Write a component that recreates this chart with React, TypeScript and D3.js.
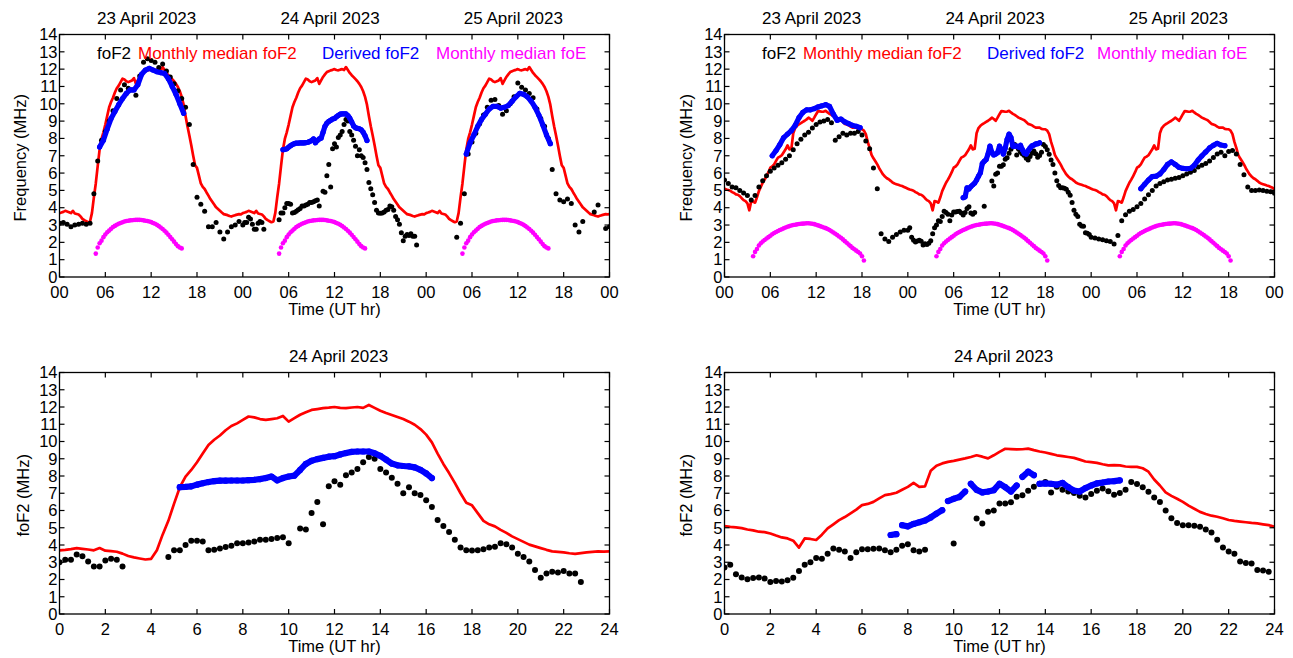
import React from "react";
import * as d3 from "d3";

type V = number | null;
type Pt = [number, number];

// ---------- tick labels and titles ----------
const DAY_LABELS = ["23 April 2023", "24 April 2023", "25 April 2023"];
const ZOOM_DAY_LABEL = "24 April 2023";
const Y_TICKS = d3.range(0, 15, 1);
const TOP_X_TICKS = d3.range(0, 73, 6);
const BOTTOM_X_TICKS = d3.range(0, 25, 2);
const LEGEND_LABELS = ["foF2", "Monthly median foF2", "Derived foF2", "Monthly median foE"];

// ---------- station A (left column) ----------
// monthly median foF2, one value every 15 min, 00:00 .. 24:00
const medianA: number[] = [
  3.69, 3.72, 3.76, 3.82, 3.78, 3.74, 3.69, 3.82, 3.67, 3.64, 3.61, 3.5,
  3.36, 3.28, 3.22, 3.16, 3.2, 3.7, 4.6, 5.4, 6.4, 7.35, 7.97, 8.35,
  8.8, 9.3, 9.8, 10.1, 10.35, 10.65, 10.9, 11.05, 11.25, 11.45, 11.4, 11.3,
  11.25, 11.3, 11.35, 11.48, 11.15, 11.35, 11.55, 11.7, 11.83, 11.88, 11.93, 11.96,
  12.0, 11.95, 11.93, 11.97, 12.0, 11.95, 12.12, 11.95, 11.78, 11.65, 11.54, 11.42,
  11.3, 11.15, 10.97, 10.72, 10.4, 9.95, 9.3, 8.7, 8.17, 7.6, 7.0, 6.45,
  6.3, 5.85, 5.4, 5.2, 5.08, 4.88, 4.7, 4.5, 4.34, 4.18, 4.02, 3.92,
  3.82, 3.72, 3.63, 3.6, 3.57, 3.52, 3.49, 3.53, 3.57, 3.6, 3.63, 3.62,
  3.63,
];
// monthly median foE, every 15 min from 04:45
const FOE_A_START = 4.75;
const foeA: number[] = [
  1.35, 1.7, 1.95, 2.1, 2.3, 2.45, 2.58, 2.68, 2.78, 2.88, 2.95, 3.02,
  3.07, 3.12, 3.16, 3.2, 3.23, 3.25, 3.27, 3.28, 3.29, 3.3, 3.3, 3.3,
  3.29, 3.27, 3.25, 3.23, 3.2, 3.17, 3.12, 3.07, 3.01, 2.94, 2.86, 2.77,
  2.67, 2.56, 2.44, 2.31, 2.18, 2.04, 1.9, 1.78, 1.7, 1.65,
];
// observed foF2 — 23 and 25 April every 30 min, 24 April every 15 min
const obsA23: V[] = [
  3.1, 3.15, 3.05, 2.9, 3.0, 3.05, 3.1, 3.05,
  3.1, 4.8, 6.7, 7.9, 8.4, 9.0, 9.6, 10.3,
  10.8, 11.1, 10.9, 10.8, 10.5, 11.6, 12.4, 12.6,
  12.5, 12.4, 12.1, 12.3, 11.9, 11.55, 11.15, 10.75,
  10.3, 9.8, 8.8, 6.5, 4.6, 4.2, 3.8, 2.9,
  2.9, 3.15, 2.6, 2.2, 2.6, 2.9, 3.0, 3.2,
];
const obsA24: V[] = [
  3.0, 3.15, 3.15, 3.45, 3.35, 3.05, 2.75, 2.75,
  3.1, 3.2, 3.15, 2.75, null, null, null, null,
  null, null, null, 3.3, 3.7, 3.7, 4.0, 4.25,
  4.25, 4.2, 3.7, 3.72, 3.8, 3.88, 3.95, 4.1,
  4.1, 4.15, 4.2, 4.3, 4.3, 4.35, 4.4, 4.45,
  4.1, null, 4.95, 4.9, 5.85, 6.5, 5.2, 7.4,
  7.7, 7.5, 8.05, 8.2, 8.4, 8.8, 9.1, 9.0,
  8.4, 8.2, 7.9, 7.55, 7.0, 7.35, 7.0, 6.9,
  6.6, 6.2, 5.45, 5.1, 4.75, 4.3, 3.85, 3.7,
  3.68, 3.7, 3.75, 3.85, 3.9, 4.1, 4.05, 3.85,
  3.5, 3.3, 3.05, 2.55, 2.1, 2.35, 2.45, 2.4,
  2.5, 2.35, 2.35, 1.85, null, null, null, null,
];
const obsA25: V[] = [
  null, null, null, null, null, null, null, null,
  2.3, 3.1, 4.8, 7.1, 7.8, 8.3, 8.85, 9.35,
  9.8, 10.2, 10.25, 9.9, 9.4, 9.6, 10.0, 10.4,
  11.2, 10.95, 10.8, 10.6, 10.35, 9.7, 9.15, 8.7,
  8.0, 6.2, 4.8, 4.45, 4.35, 4.5, 4.25, 3.0,
  2.6, 3.2, null, null, 3.75, 4.15, null, 2.8,
  2.9,
];
// derived foF2
const DER_A23_START = 5.25;
const derA23: V[] = [
  7.5, 7.9, 8.55, 9.15, 9.55, 9.95, 10.3, 10.6, 10.8, 10.8, 11.1, 11.7,
  11.95, 12.05, 11.95, 11.85, 11.8, 11.75, 11.45, 11.0, 10.55, 10.0, 9.45,
];
const DER_A24_START = 5.25;
const derA24: V[] = [
  7.35, 7.37, 7.4, 7.5, 7.58, 7.65, 7.7, 7.73, 7.73, 7.74, 7.74, 7.74,
  7.76, 7.78, 7.82, 7.88, 7.97, 7.75, 7.88, 7.97, 8.02, 8.35, 8.7, 8.88,
  8.98, 9.05, 9.12, 9.15, 9.25, 9.33, 9.4, 9.42, 9.42, 9.42, 9.32, 9.17,
  8.95, 8.72, 8.62, 8.58, 8.56, 8.5, 8.36, 8.15, 7.88,
];
const DER_A25_START = 5.25;
const derA25: V[] = [
  7.1, 7.75, 8.2, 8.7, 9.1, 9.4, 9.7, 9.85, 9.85, 9.75, 9.8, 9.9,
  10.15, 10.4, 10.6, 10.55, 10.4, 10.15, 9.8, 9.35, 8.8, 8.2, 7.7,
];

// ---------- station B (right column) ----------
const medianB: number[] = [
  5.1, 5.05, 5.02, 4.98, 4.9, 4.85, 4.77, 4.75, 4.67, 4.55, 4.44, 4.38,
  4.25, 3.85, 4.38, 4.35, 4.29, 4.6, 4.96, 5.2, 5.44, 5.62, 5.83, 6.05,
  6.31, 6.38, 6.5, 6.7, 6.89, 6.95, 7.03, 7.2, 7.37, 7.6, 7.37, 7.4,
  8.3, 8.6, 8.73, 8.82, 8.88, 8.95, 9.02, 9.1, 9.2, 9.12, 9.02, 9.2,
  9.4, 9.58, 9.56, 9.54, 9.55, 9.59, 9.5, 9.42, 9.36, 9.28, 9.2, 9.15,
  9.1, 9.05, 8.95, 8.84, 8.8, 8.76, 8.68, 8.62, 8.63, 8.62, 8.55, 8.53,
  8.53, 8.45, 8.25, 7.8, 7.45, 7.05, 6.85, 6.68, 6.5, 6.28, 6.1, 5.92,
  5.8, 5.7, 5.64, 5.55, 5.45, 5.4, 5.36, 5.32, 5.28, 5.25, 5.2, 5.15,
  5.05,
];
const FOE_B_START = 3.75;
const foeB: number[] = [
  1.2, 1.45, 1.62, 1.82, 1.95, 2.05, 2.14, 2.22, 2.3, 2.38, 2.47, 2.54,
  2.6, 2.66, 2.71, 2.76, 2.81, 2.86, 2.9, 2.94, 2.97, 3.0, 3.02, 3.04,
  3.06, 3.07, 3.08, 3.09, 3.1, 3.1, 3.09, 3.07, 3.05, 3.02, 2.98, 2.94,
  2.9, 2.86, 2.82, 2.77, 2.71, 2.64, 2.57, 2.5, 2.42, 2.34, 2.26, 2.17,
  2.07, 1.98, 1.88, 1.78, 1.68, 1.6, 1.52, 1.44, 1.36, 1.2, 0.95,
];
const obsB23: V[] = [
  5.6, 5.4, 5.2, 5.15, 5.0, 4.85, 4.7, 4.45,
  4.7, 5.2, 5.55, 5.85, 6.1, 6.3, 6.45, 6.6,
  6.8, 7.0, 7.35, 7.7, 7.95, 8.2, 8.35, 8.6,
  8.8, 8.95, 9.0, 9.1, 8.9, 7.9, 8.1, 8.3,
  8.2, 8.3, 8.3, 8.4, 8.2, 7.85, 7.4, 6.3,
  5.1, 2.5, 2.2, 2.05, 2.3, 2.45, 2.6, 2.7,
];
const obsB24: V[] = [
  2.7, 2.85, 2.3, 2.12, 2.02, 2.08, 2.12, 2.06,
  1.85, 1.92, 1.88, 1.95, 2.1, 2.5, 2.85, 3.0,
  3.25, 3.2, 3.5, 3.8, 3.72, 3.62, 3.25, 3.58,
  3.75, 3.75, 3.78, 3.8, 3.7, 3.58, 3.72, 3.95,
  4.05, 3.7, 3.62, 3.72, null, null, null, null,
  4.09, null, null, null, 5.54, 5.25, 5.93, 6.0,
  6.4, 6.4, 6.48, 6.8, 6.88, 7.15, 7.38, 7.55,
  7.65, 7.05, 7.37, 7.2, 7.1, 7.02, 6.85, 6.75,
  6.95, 7.15, 7.28, 7.12, 6.92, 7.02, 7.2, 7.65,
  7.53, 7.35, 7.08, 6.75, 6.5, 6.0, 5.55, 5.28,
  5.15, 5.15, 5.12, 5.06, 4.9, 4.72, 4.3, 3.85,
  3.62, 3.5, 3.05, 2.95, 2.93, 2.55, 2.52, 2.45,
];
const obsB25: V[] = [
  2.3, 2.25, 2.2, 2.15, 2.1, 2.05, 1.9, 2.4,
  3.25, 3.6, 3.8, 3.9, 4.05, 4.25, 4.5, 4.75,
  5.0, 5.25, 5.4, 5.5, 5.6, 5.65, 5.7, 5.75,
  5.85, 5.95, 6.05, 6.15, 6.35, 6.45, 6.55, 6.7,
  6.9, 7.1, 7.2, 7.0, 7.25, 7.3, 7.1, 6.5,
  5.9, 5.2, 5.0, 5.0, 5.02, 5.0, 4.95, 4.92,
  4.83,
];
const DER_B23_START = 6.25;
const derB23: V[] = [
  7.0, 7.3, 7.65, 8.05, 8.25, 8.45, 8.75, 9.2, 9.5, 9.65, 9.65, 9.72,
  9.82, 9.88, 9.95, 9.85, 9.4, 9.05, 9.12, 8.95, 8.85, 8.75, 8.7, 8.62,
];
const DER_B24_START = 7.25;
const derB24: V[] = [
  4.58, 4.63, 5.15, 5.08, 5.22, 5.32, 5.42, 5.6, 5.82, 6.02, 6.55, 6.68,
  6.78, 7.1, 7.55, 7.2, 7.05, 7.1, 7.18, 7.55, 7.35, 7.1, 7.45, 7.95,
  8.25, 8.05, 7.55, 7.57, 7.55, 7.5, 7.6, 7.35, 7.15, 7.1, 7.3, 7.45,
  7.57, 7.62, 7.68, 7.7, 7.75,
];
const DER_B25_START = 6.5;
const derB25: V[] = [
  5.1, 5.35, 5.6, 5.8, 5.82, 5.95, 6.2, 6.5, 6.65, 6.5, 6.33, 6.27,
  6.25, 6.27, 6.45, 6.75, 7.0, 7.22, 7.45, 7.6, 7.72, 7.62, 7.58,
];

// ---------- helpers ----------
function grid(start: number, step: number, values: V[], offset = 0): Pt[] {
  const out: Pt[] = [];
  values.forEach((v, i) => {
    if (v != null) out.push([offset + start + i * step, v]);
  });
  return out;
}

// split a dense point series into connected runs
function runs(pts: Pt[], maxStep: number, maxJump: number): Pt[][] {
  const out: Pt[][] = [];
  let cur: Pt[] = [];
  for (const p of pts) {
    const last = cur[cur.length - 1];
    if (last && (p[0] - last[0] > maxStep + 1e-6 || Math.abs(p[1] - last[1]) > maxJump)) {
      out.push(cur);
      cur = [];
    }
    cur.push(p);
  }
  if (cur.length) out.push(cur);
  return out;
}

function medianThreeDays(values: number[]): Pt[] {
  const pts: Pt[] = [];
  for (let d = 0; d < 3; d++) {
    const vals = d < 2 ? values.slice(0, values.length - 1) : values;
    pts.push(...grid(0, 0.25, vals, d * 24));
  }
  return pts;
}

function foeThreeDays(start: number, values: number[]): Pt[] {
  const pts: Pt[] = [];
  for (let d = 0; d < 3; d++) pts.push(...grid(start, 0.25, values, d * 24));
  return pts;
}

interface Station {
  median: number[];
  foeStart: number;
  foe: number[];
  obs: [V[], V[], V[]];
  derStart: [number, number, number];
  der: [V[], V[], V[]];
}

const STATION_A: Station = {
  median: medianA,
  foeStart: FOE_A_START,
  foe: foeA,
  obs: [obsA23, obsA24, obsA25],
  derStart: [DER_A23_START, DER_A24_START, DER_A25_START],
  der: [derA23, derA24, derA25],
};
const STATION_B: Station = {
  median: medianB,
  foeStart: FOE_B_START,
  foe: foeB,
  obs: [obsB23, obsB24, obsB25],
  derStart: [DER_B23_START, DER_B24_START, DER_B25_START],
  der: [derB23, derB24, derB25],
};
const OBS_STEPS = [0.5, 0.25, 0.5];

// ---------- styling ----------
const FONT = "'Liberation Sans', Arial, Helvetica, sans-serif";
const RED = "#ff0000";
const BLUE = "#0000ff";
const MAGENTA = "#ff00ff";
const BLACK = "#000000";

interface Box { l: number; r: number; t: number; b: number; }

interface PanelProps {
  id: string;
  box: Box;
  xMax: number;
  xTicks: number[];
  fmt: (v: number) => string;
  yTitle: string;
  yTitleX: number;
  titles: { label: string; hour: number; dx: number }[];
  legendX?: number[];
  red: Pt[];
  magenta: Pt[];
  black: Pt[];
  blue: Pt[];
  blueStep: number;
  blueJump: number;
  dotR: number;
  magR: number;
  blueW: number;
}

function Panel(p: PanelProps) {
  const { box } = p;
  const x = d3.scaleLinear().domain([0, p.xMax]).range([box.l, box.r]);
  const y = d3.scaleLinear().domain([0, 14]).range([box.b, box.t]);
  const line = d3.line<Pt>().x((d) => x(d[0])).y((d) => y(d[1]));
  const blueRuns = runs(p.blue, p.blueStep, p.blueJump);
  const tick = 5;
  const legendColors = [BLACK, RED, BLUE, MAGENTA];
  const clipId = `clip-${p.id}`;
  const midY = (box.t + box.b) / 2;

  return (
    <g>
      <defs>
        <clipPath id={clipId}>
          <rect x={box.l} y={box.t} width={box.r - box.l} height={box.b - box.t} />
        </clipPath>
      </defs>

      <g clipPath={`url(#${clipId})`}>
        <path d={line(p.red) || ""} fill="none" stroke={RED} strokeWidth={2.7} strokeLinejoin="round" />
        {p.magenta.map((d, i) => (
          <circle key={`m${i}`} cx={x(d[0])} cy={y(d[1])} r={p.magR} fill={MAGENTA} />
        ))}
        {p.black.map((d, i) => (
          <circle key={`k${i}`} cx={x(d[0])} cy={y(d[1])} r={p.dotR} fill={BLACK} />
        ))}
        {blueRuns.map((run, i) =>
          run.length > 1 ? (
            <path key={`bl${i}`} d={line(run) || ""} fill="none" stroke={BLUE} strokeWidth={p.blueW}
              strokeLinecap="round" strokeLinejoin="round" />
          ) : null
        )}
        {p.blue.map((d, i) => (
          <circle key={`b${i}`} cx={x(d[0])} cy={y(d[1])} r={p.blueW / 2} fill={BLUE} />
        ))}
      </g>

      <rect x={box.l} y={box.t} width={box.r - box.l} height={box.b - box.t}
        fill="none" stroke={BLACK} strokeWidth={1.3} />

      {p.xTicks.map((v) => (
        <g key={`xt${v}`}>
          <line x1={x(v)} x2={x(v)} y1={box.b} y2={box.b - tick} stroke={BLACK} strokeWidth={1.2} />
          <line x1={x(v)} x2={x(v)} y1={box.t} y2={box.t + tick} stroke={BLACK} strokeWidth={1.2} />
          <text x={x(v)} y={box.b + 21} textAnchor="middle" fontSize={16.5} fontFamily={FONT}>
            {p.fmt(v)}
          </text>
        </g>
      ))}
      {Y_TICKS.map((v) => (
        <g key={`yt${v}`}>
          <line x1={box.l} x2={box.l + tick} y1={y(v)} y2={y(v)} stroke={BLACK} strokeWidth={1.2} />
          <line x1={box.r - tick} x2={box.r} y1={y(v)} y2={y(v)} stroke={BLACK} strokeWidth={1.2} />
          <text x={box.l - 2} y={y(v)} dy="0.35em" textAnchor="end" fontSize={16.5} fontFamily={FONT}>
            {v}
          </text>
        </g>
      ))}

      <text x={(box.l + box.r) / 2} y={box.b + 38} textAnchor="middle" fontSize={16.5} fontFamily={FONT}>
        Time (UT hr)
      </text>
      <text transform={`translate(${p.yTitleX},${midY + 2}) rotate(-90)`} textAnchor="middle"
        fontSize={16.5} fontFamily={FONT}>
        {p.yTitle}
      </text>

      {p.titles.map((t) => (
        <text key={t.label + t.hour} x={x(t.hour) + t.dx} y={box.t - 11} textAnchor="middle"
          fontSize={17} fontFamily={FONT}>
          {t.label}
        </text>
      ))}

      {p.legendX &&
        LEGEND_LABELS.map((s, i) => (
          <text key={s} x={p.legendX![i]} y={box.t + 24} fontSize={17} fontFamily={FONT} fill={legendColors[i]}>
            {s}
          </text>
        ))}
    </g>
  );
}

const pad2 = (v: number) => String(v % 24).padStart(2, "0");

function topProps(id: string, box: Box, st: Station, yTitleX: number, legendX: number[]): PanelProps {
  const black: Pt[] = [];
  const blue: Pt[] = [];
  for (let d = 0; d < 3; d++) {
    black.push(...grid(0, OBS_STEPS[d], st.obs[d], d * 24));
    blue.push(...grid(st.derStart[d], OBS_STEPS[d], st.der[d], d * 24));
  }
  return {
    id, box, xMax: 72, xTicks: TOP_X_TICKS, fmt: pad2,
    yTitle: "Frequency (MHz)", yTitleX,
    titles: DAY_LABELS.map((label, d) => ({ label, hour: d * 24 + 12, dx: -4.5 })),
    legendX,
    red: medianThreeDays(st.median),
    magenta: foeThreeDays(st.foeStart, st.foe),
    black, blue, blueStep: 0.5, blueJump: 1.0, dotR: 2.5, magR: 2.3, blueW: 5.2,
  };
}

function bottomProps(id: string, box: Box, st: Station, yTitleX: number): PanelProps {
  return {
    id, box, xMax: 24, xTicks: BOTTOM_X_TICKS, fmt: (v) => String(v),
    yTitle: "foF2 (MHz)", yTitleX,
    titles: [{ label: ZOOM_DAY_LABEL, hour: 12, dx: 4 }],
    red: grid(0, 0.25, st.median),
    magenta: [],
    black: grid(0, 0.25, st.obs[1]),
    blue: grid(st.derStart[1], 0.25, st.der[1]),
    blueStep: 0.25, blueJump: 0.42, dotR: 3.0, magR: 2.3, blueW: 6.2,
  };
}

const BOX_TL: Box = { l: 59.5, r: 609.5, t: 34.5, b: 277 };
const BOX_TR: Box = { l: 724.5, r: 1274.5, t: 34.5, b: 277 };
const BOX_BL: Box = { l: 59.5, r: 609.5, t: 372.5, b: 614 };
const BOX_BR: Box = { l: 724.5, r: 1274.5, t: 372.5, b: 614 };

export default function App() {
  return (
    <svg width={1293} height={658} viewBox="0 0 1293 658"
      style={{ position: "absolute", left: 0, top: 0, background: "#ffffff" }}>
      <rect x={0} y={0} width={1293} height={658} fill="#ffffff" />
      <Panel {...topProps("tl", BOX_TL, STATION_A, 26, [97, 138, 322, 436])} />
      <Panel {...topProps("tr", BOX_TR, STATION_B, 692, [762, 803, 987, 1097])} />
      <Panel {...bottomProps("bl", BOX_BL, STATION_A, 29)} />
      <Panel {...bottomProps("br", BOX_BR, STATION_B, 692)} />
    </svg>
  );
}
